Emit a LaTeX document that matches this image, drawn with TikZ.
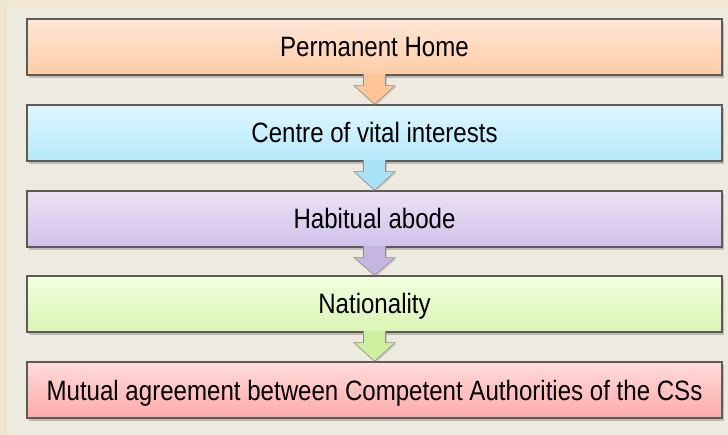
\documentclass[tikz,border=0pt]{standalone}
\usepackage{fontspec}
\setmainfont{Liberation Sans}[FakeStretch=0.86]
\usetikzlibrary{calc, shadows}
\definecolor{outerbg}{HTML}{F1E6D0}
\definecolor{panel}{HTML}{EDEAE0}
\definecolor{boxline}{HTML}{5E5A55}
\definecolor{peachtop}{HTML}{FFE6D6}
\definecolor{peachbot}{HTML}{FFCCA6}
\definecolor{peacharr}{HTML}{FFC596}
\definecolor{cyantop}{HTML}{DFF7FF}
\definecolor{cyanbot}{HTML}{B5E8FA}
\definecolor{cyanarr}{HTML}{A9E2F6}
\definecolor{lavtop}{HTML}{ECE2F6}
\definecolor{lavbot}{HTML}{D0C2EA}
\definecolor{lavarr}{HTML}{C6B5E2}
\definecolor{greentop}{HTML}{F2FFDD}
\definecolor{greenbot}{HTML}{D9F5B3}
\definecolor{greenarr}{HTML}{CDEFA0}
\definecolor{pinktop}{HTML}{FFDCDC}
\definecolor{pinkbot}{HTML}{FFA9A9}
\tikzset{
  stepbox/.style={draw=boxline, line width=1.3pt, minimum width=695pt, minimum height=56pt,
    inner sep=0pt, text height=20pt, text depth=0pt, font=\fontsize{28}{32}\selectfont,
    drop shadow={shadow xshift=2pt, shadow yshift=-3pt, opacity=0.35, fill=black!60}},
  downarrow/.style={draw=boxline!70, line width=0.6pt,
    drop shadow={shadow xshift=1.5pt, shadow yshift=-1.5pt, opacity=0.2, fill=black!60}}
}

\begin{document}
\begin{tikzpicture}[x=1pt,y=-1pt]
  \fill[outerbg] (0,0) rectangle (728,435);
  \fill[panel] (7,7) rectangle (728,435);
  % the five steps
  \node[stepbox, top color=peachtop, bottom color=peachbot] (home) at (374.5,47) {Permanent Home};
  \node[stepbox, top color=cyantop, bottom color=cyanbot] (centre) at (374.5,133) {Centre of vital interests};
  \node[stepbox, top color=lavtop, bottom color=lavbot] (abode) at (374.5,219) {Habitual abode};
  \node[stepbox, top color=greentop, bottom color=greenbot] (nation) at (374.5,304) {Nationality};
  \node[stepbox, top color=pinktop, bottom color=pinkbot] (mutual) at (374.5,390) {Mutual agreement between Competent Authorities of the CSs};
  % block arrows between them
  \foreach \a/\b/\c in {home/centre/peacharr, centre/abode/cyanarr, abode/nation/lavarr, nation/mutual/greenarr}
    \filldraw[downarrow, fill=\c] ($(\a.south)+(-11,-1.5)$) -- ($(\a.south)+(-11,10)$)
      -- ($(\a.south)+(-20.5,10)$) -- (\b.north) -- ($(\a.south)+(20.5,10)$)
      -- ($(\a.south)+(11,10)$) -- ($(\a.south)+(11,-1.5)$);
\end{tikzpicture}
\end{document}
